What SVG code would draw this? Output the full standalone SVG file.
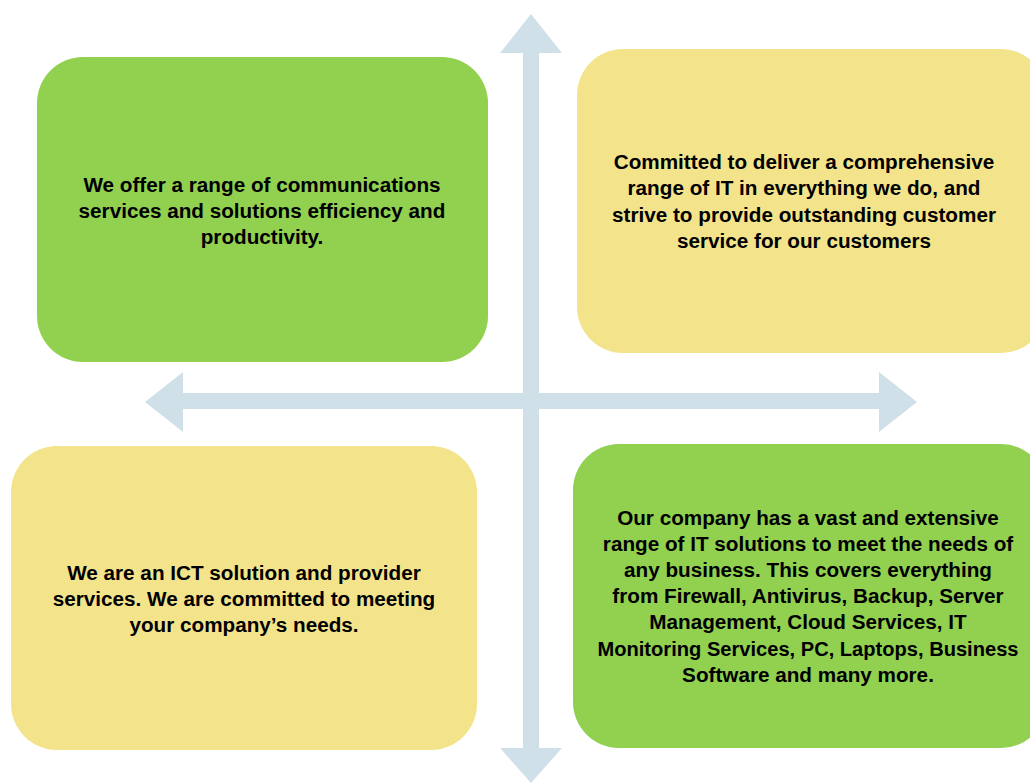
<svg xmlns="http://www.w3.org/2000/svg" width="1030" height="783" viewBox="0 0 1030 783">
<style>
.green{fill:#92D050}
.yellow{fill:#F3E48B}
.arrow{fill:#CFE0E8}
text{font-family:"Liberation Sans",Arial,sans-serif;font-weight:bold;font-size:20.7px;fill:#000;text-anchor:middle}
</style>
<rect width="1030" height="783" fill="#fff"/>
<g id="connectors">
<polygon class="arrow" points="531,14 562,53 539,53 539,393 879,393 879,372 917,402 879,432 879,409 539,409 539,748 562,748 531,783 500,748 523,748 523,409 183,409 183,432 145,402 183,372 183,393 523,393 523,53 500,53"/>
</g>
<g id="node-tl">
<rect class="green" x="37" y="57" width="451" height="305" rx="46"/>
<text x="262" y="192">We offer a range of communications</text>
<text x="262" y="218">services and solutions efficiency and</text>
<text x="262" y="244">productivity.</text>
</g>
<g id="node-tr">
<rect class="yellow" x="577" y="49" width="470" height="304" rx="46"/>
<text x="804" y="169">Committed to deliver a comprehensive</text>
<text x="804" y="195">range of IT in everything we do, and</text>
<text x="804" y="222">strive to provide outstanding customer</text>
<text x="804" y="248">service for our customers</text>
</g>
<g id="node-bl">
<rect class="yellow" x="11" y="446" width="466" height="304" rx="46"/>
<text x="244" y="580">We are an ICT solution and provider</text>
<text x="244" y="606">services. We are committed to meeting</text>
<text x="244" y="632">your company’s needs.</text>
</g>
<g id="node-br">
<rect class="green" x="573" y="444" width="474" height="304" rx="46"/>
<text x="808" y="525">Our company has a vast and extensive</text>
<text x="808" y="551">range of IT solutions to meet the needs of</text>
<text x="808" y="577">any business. This covers everything</text>
<text x="808" y="603">from Firewall, Antivirus, Backup, Server</text>
<text x="808" y="629">Management, Cloud Services, IT</text>
<text x="808" y="656" textLength="421" lengthAdjust="spacingAndGlyphs">Monitoring Services, PC, Laptops, Business</text>
<text x="808" y="682">Software and many more.</text>
</g>
</svg>
